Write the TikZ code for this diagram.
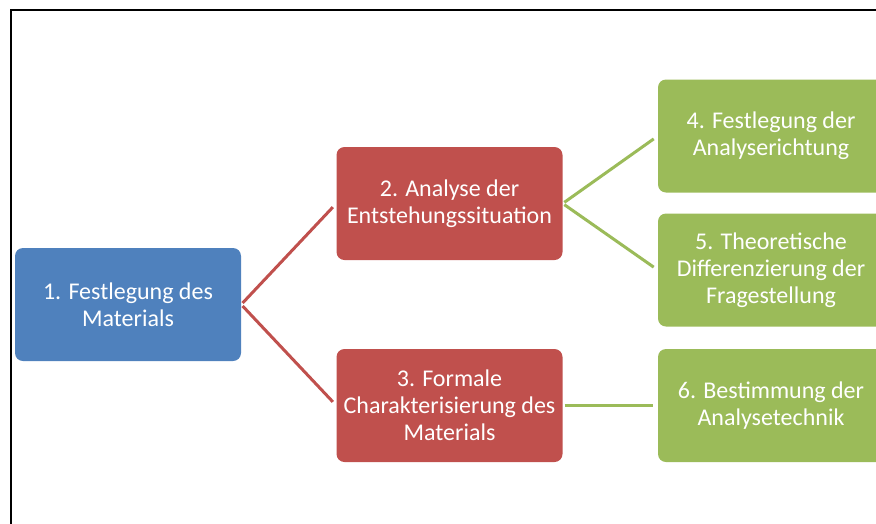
\documentclass[tikz,border=0pt]{standalone}
\usepackage{fontspec}
\setmainfont{Carlito}
\definecolor{cblue}{HTML}{4F81BD}
\definecolor{cred}{HTML}{C0504D}
\definecolor{cgreen}{HTML}{9BBB59}
\begin{document}
\begin{tikzpicture}[x=1pt,y=-1pt,
  box/.style={rounded corners=8pt, minimum width=226pt, minimum height=113pt,
    align=center, text=white, font=\fontsize{24}{27}\selectfont, inner sep=0pt},
  bluebox/.style={box, fill=cblue},
  redbox/.style={box, fill=cred},
  greenbox/.style={box, fill=cgreen},
  redline/.style={draw=cred, line width=3pt, shorten <=2pt, shorten >=5pt},
  greenline/.style={draw=cgreen, line width=3pt, shorten <=2pt, shorten >=5pt}]
\useasboundingbox (0,0) rectangle (876,523);
\clip (0,0) rectangle (876,523);
\draw[line width=2.2pt] (11,540) -- (11,10) -- (890,10);
\node[bluebox] (n1) at (128,304.5) {1. Festlegung des\\Materials};
\node[redbox] (n2) at (449.5,203.5) {2. Analyse der\\Entstehungssituation};
\node[redbox] (n3) at (449.5,405.5) {3. Formale\\Charakterisierung des\\Materials};
\node[greenbox] (n4) at (771,136) {4. Festlegung der\\Analyserichtung};
\node[greenbox] (n5) at (771,270) {5. Theoretische\\Differenzierung der\\Fragestellung};
\node[greenbox] (n6) at (771,405.5) {6. Bestimmung der\\Analysetechnik};
\draw[redline] (n1.east) -- (n2.west);
\draw[redline] (n1.east) -- (n3.west);
\draw[greenline] (n2.east) -- (n4.west);
\draw[greenline] (n2.east) -- (n5.west);
\draw[greenline] (n3.east) -- (n6.west);
\end{tikzpicture}
\end{document}
